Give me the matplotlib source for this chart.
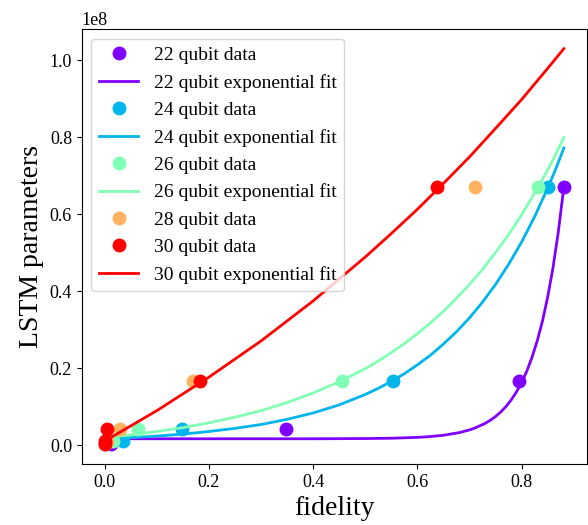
import numpy as np
import matplotlib
matplotlib.use('Agg')
import matplotlib.pyplot as plt

plt.rcParams['font.family'] = ['Liberation Serif', 'DejaVu Serif']

QUBITS = [22, 24, 26, 28, 30]
PARAMS = [0.26e6, 1.05e6, 4.2e6, 16.8e6, 67.1e6]
FIDELITY = {
    22: [0.012, 0.015, 0.347, 0.795, 0.881],
    24: [0.0, 0.036, 0.149, 0.553, 0.851],
    26: [0.0, 0.015, 0.064, 0.455, 0.831],
    28: [0.0, 0.004, 0.029, 0.169, 0.711],
    30: [0.0, 0.0, 0.004, 0.182, 0.638],
}

# exponential fit curves (millions of parameters)
FIT_X = [0.0, 0.05, 0.1, 0.15, 0.2, 0.25, 0.3, 0.35, 0.4, 0.45, 0.5, 0.525, 0.55,
         0.575, 0.6, 0.625, 0.65, 0.675, 0.7, 0.725, 0.75, 0.775, 0.8, 0.825,
         0.85, 0.865, 0.881]
FIT_24 = [1.7, 2.0, 2.4, 2.9, 3.6, 4.4, 5.4, 6.75, 8.4, 10.5, 13.2, 14.8, 16.6,
          18.6, 20.9, 23.4, 26.3, 29.5, 33.1, 37.2, 41.8, 47.0, 52.8, 59.4,
          66.8, 71.6, 77.2]
FIT_26 = [2.0, 2.7, 3.6, 4.6, 5.85, 7.3, 9.0, 11.1, 13.6, 16.5, 19.9, 21.9, 24.1,
          26.4, 29.0, 31.8, 34.8, 38.2, 41.8, 45.7, 50.1, 54.7, 59.9, 65.5,
          71.5, 75.5, 79.9]
FIT_30_X = [0.0, 0.1, 0.2, 0.3, 0.4, 0.5, 0.55, 0.6, 0.65, 0.7, 0.75, 0.8, 0.85, 0.881]
FIT_30 = [1.1, 9.0, 17.7, 27.1, 37.5, 48.9, 55.0, 61.3, 68.0, 74.9, 82.3, 89.8, 97.9, 103.0]
FIT_22_X = [0.0, 0.2, 0.4, 0.5, 0.55, 0.6, 0.62, 0.65, 0.68, 0.7, 0.71, 0.73, 0.74,
            0.75, 0.76, 0.77, 0.78, 0.79, 0.8, 0.81, 0.82, 0.83, 0.84, 0.85,
            0.86, 0.87, 0.881]
FIT_22 = [1.7, 1.7, 1.7, 1.76, 1.84, 2.06, 2.22, 2.61, 3.29, 4.0, 4.47, 5.7, 6.52,
          7.49, 8.67, 10.09, 11.8, 13.85, 16.3, 19.29, 22.9, 27.16, 32.3, 38.55,
          46.0, 55.06, 67.1]

FITS = {
    22: (FIT_22_X, FIT_22),
    24: (FIT_X, FIT_24),
    26: (FIT_X, FIT_26),
    30: (FIT_30_X, FIT_30),
}

colors = plt.cm.rainbow(np.linspace(0, 1, len(QUBITS)))

fig, ax = plt.subplots(figsize=(5.88, 5.25), dpi=100)
fig.subplots_adjust(left=0.139, right=0.998, top=0.945, bottom=0.116)

for q, c in zip(QUBITS, colors):
    ax.plot(FIDELITY[q], PARAMS, 'o', color=c, markersize=9,
            label=f'{q} qubit data')
    if q in FITS:
        fx, fy = FITS[q]
        ax.plot(fx, np.array(fy) * 1e6, '-', color=c, linewidth=2,
                label=f'{q} qubit exponential fit')

ax.set_xlabel('fidelity', fontsize=20)
ax.set_ylabel('LSTM parameters', fontsize=20)
ax.tick_params(labelsize=13)
ax.yaxis.get_offset_text().set_fontsize(13)
ax.legend(loc='upper left', fontsize=14)

fig.savefig('out.png', dpi=100)
